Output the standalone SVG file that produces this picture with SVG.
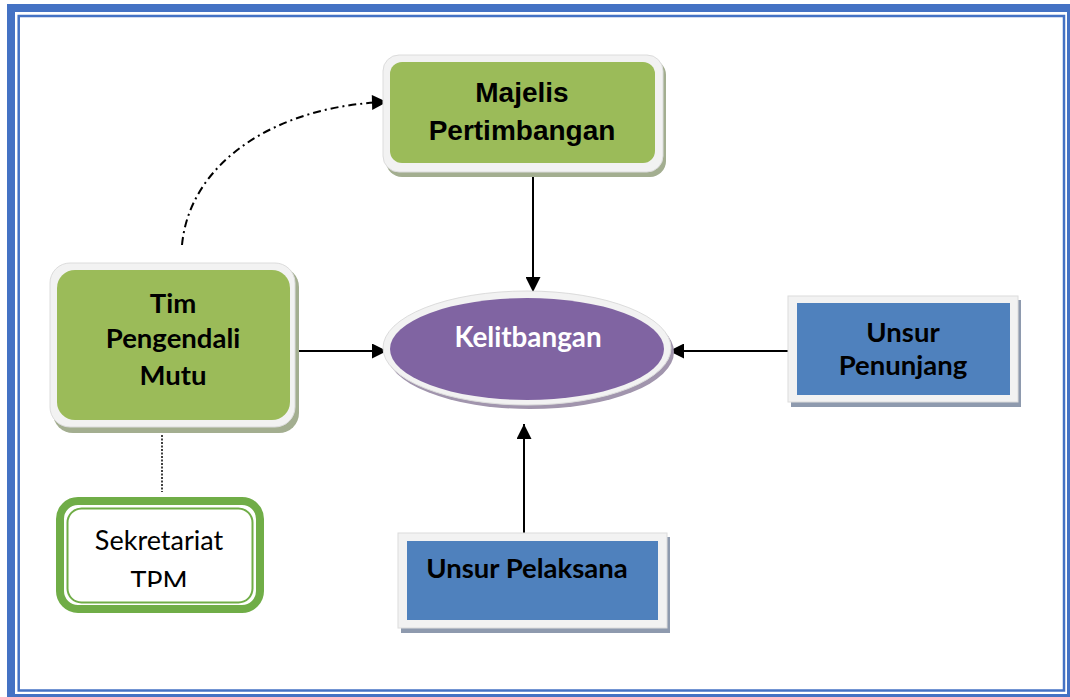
<svg xmlns="http://www.w3.org/2000/svg" width="1070" height="697" viewBox="0 0 1070 697">
<defs>
<style>
.frameO{fill:none;stroke:#4472C4;stroke-width:8}
.frameI{fill:none;stroke:#4472C4;stroke-width:2.5}
.halo{fill:#F2F2F2;stroke:#DCDCDC;stroke-width:1}
.green{fill:#9BBB59}
.gshadow{fill:#A3AE90}
.bshadow{fill:#8E9AAE}
.blue{fill:#4F81BD}
.purple{fill:#8064A2}
.pshadow{fill:#A195AD}
.tA{font-family:"Liberation Sans",Arial,sans-serif;font-weight:bold;font-size:28px;fill:#000;text-anchor:middle}
.tC{font-family:Lato,"Open Sans",sans-serif;font-weight:bold;font-size:27.5px;fill:#000;text-anchor:middle}
.tW{font-family:Lato,"Open Sans",sans-serif;font-weight:bold;font-size:27.8px;fill:#fff;text-anchor:middle}
.tR{font-family:Lato,"Open Sans",sans-serif;font-size:27px;fill:#000;text-anchor:middle}
.conn{fill:none;stroke:#000;stroke-width:2}
</style>
<marker id="arr" viewBox="0 0 10 10" refX="10" refY="5" markerWidth="8" markerHeight="7.5" markerUnits="strokeWidth" orient="auto">
<path d="M0,0 L10,5 L0,10 z" fill="#000"/>
</marker>
<clipPath id="sekClip"><rect x="60" y="505" width="200" height="82"/></clipPath>
</defs>

<rect class="frameO" x="11" y="8" width="1060" height="690"/>
<rect class="frameI" x="18.7" y="16" width="1045.3" height="674.5"/>

<g id="connectors">
<path class="conn" d="M533,175 L533,292" marker-end="url(#arr)"/>
<path class="conn" d="M292,351 L387,351" marker-end="url(#arr)"/>
<path class="conn" d="M795,351 L669,351" marker-end="url(#arr)"/>
<path class="conn" d="M524,538 L524,424" marker-end="url(#arr)"/>
<path class="conn" d="M182,245 C190,160 280,105 387,102" stroke-dasharray="8,4,2,4" marker-end="url(#arr)"/>
<path d="M162,435 L162,492" stroke="#000" stroke-width="1.5" stroke-dasharray="2,1.5" fill="none"/>
</g>

<g id="majelis">
<rect class="gshadow" x="386" y="59" width="280" height="118" rx="16"/>
<rect class="halo" x="383" y="55" width="280" height="117" rx="16"/>
<rect class="green" x="390" y="62" width="265" height="101" rx="12"/>
<text class="tA" x="522" y="102">Majelis</text>
<text class="tA" x="522" y="140">Pertimbangan</text>
</g>

<g id="tim">
<rect class="gshadow" x="53" y="267" width="246" height="166" rx="20"/>
<rect class="halo" x="50" y="263" width="245" height="164" rx="20"/>
<rect class="green" x="57" y="270" width="233" height="150" rx="18"/>
<text class="tC" x="173" y="313">Tim</text>
<text class="tC" x="173" y="348">Pengendali</text>
<text class="tC" x="173" y="385">Mutu</text>
</g>

<g id="sekretariat">
<rect x="60" y="501" width="200" height="108" rx="18" fill="#fff" stroke="#70AD47" stroke-width="8"/>
<rect x="67.5" y="508.5" width="185" height="94" rx="14" fill="none" stroke="#70AD47" stroke-width="2"/>
<text class="tR" x="159" y="550">Sekretariat</text>
<text class="tR" x="159" y="591" clip-path="url(#sekClip)">TPM</text>
</g>

<g id="kelitbangan">
<ellipse class="pshadow" cx="530" cy="352" rx="144" ry="57"/>
<ellipse class="halo" cx="527" cy="348" rx="144" ry="57"/>
<ellipse class="purple" cx="527" cy="349" rx="137" ry="51"/>
<text class="tW" x="528" y="347">Kelitbangan</text>
</g>

<g id="penunjang">
<rect class="bshadow" x="791" y="300" width="230" height="107"/>
<rect class="halo" x="788" y="296" width="230" height="106"/>
<rect class="blue" x="797" y="303" width="213" height="92"/>
<text class="tC" x="903" y="342">Unsur</text>
<text class="tC" x="903" y="375">Penunjang</text>
</g>

<g id="pelaksana">
<rect class="bshadow" x="401" y="537" width="269" height="96"/>
<rect class="halo" x="398" y="533" width="269" height="95"/>
<rect class="blue" x="407" y="541" width="251" height="79"/>
<text class="tC" x="527" y="578">Unsur Pelaksana</text>
</g>
</svg>
